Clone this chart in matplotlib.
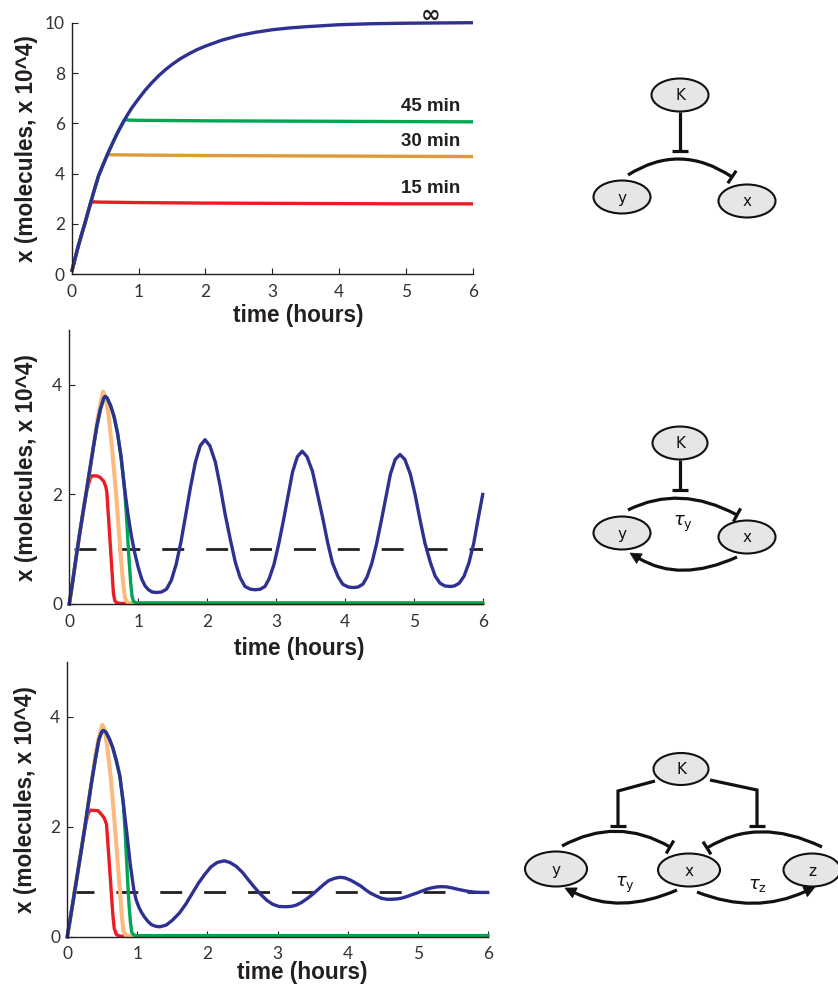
import matplotlib
matplotlib.use("Agg")
import matplotlib.pyplot as plt
import numpy as np
from matplotlib import font_manager as fm
from matplotlib.patches import Ellipse, PathPatch, Polygon
from matplotlib.path import Path

# ---------------- data ----------------
# Top panel: delay-free repression, different durations
top_t_blue = [0, 0.05, 0.1, 0.15, 0.2, 0.25, 0.3, 0.35, 0.4, 0.45, 0.5, 0.55, 0.6, 0.675, 0.75, 0.825, 0.9,
              1.0, 1.1, 1.2, 1.3, 1.4, 1.5, 1.625, 1.75, 1.875, 2.0, 2.25, 2.5, 2.75, 3.0, 3.25, 3.5, 3.75,
              4.0, 4.5, 5.0, 5.5, 6.0]
top_blue = [0.1, 0.62, 1.14, 1.6, 2.05, 2.53, 3.0, 3.46, 3.9, 4.23, 4.55, 4.86, 5.15, 5.57, 5.95, 6.3, 6.62,
            6.98, 7.32, 7.62, 7.89, 8.13, 8.34, 8.57, 8.76, 8.93, 9.07, 9.31, 9.49, 9.62, 9.72, 9.79, 9.84, 9.88,
            9.92, 9.96, 9.98, 9.99, 10.0]
top_t_red = [0, 0.05, 0.1, 0.15, 0.2, 0.25, 0.28, 0.32, 0.4, 1, 2, 3, 4, 5, 6]
top_red = [0.1, 0.62, 1.14, 1.6, 2.05, 2.53, 2.8, 2.88, 2.87, 2.85, 2.83, 2.82, 2.81, 2.80, 2.80]
top_t_orange = [0, 0.05, 0.1, 0.15, 0.2, 0.25, 0.3, 0.35, 0.4, 0.45, 0.5, 0.54, 0.6, 1, 2, 3, 4, 5, 6]
top_orange = [0.1, 0.62, 1.14, 1.6, 2.05, 2.53, 3.0, 3.46, 3.9, 4.23, 4.55, 4.76, 4.75, 4.74, 4.72, 4.71, 4.70,
              4.69, 4.68]
top_t_green = [0, 0.05, 0.1, 0.15, 0.2, 0.25, 0.3, 0.35, 0.4, 0.45, 0.5, 0.55, 0.6, 0.675, 0.75, 0.79, 0.85, 1,
               2, 3, 4, 5, 6]
top_green = [0.1, 0.62, 1.14, 1.6, 2.05, 2.53, 3.0, 3.46, 3.9, 4.23, 4.55, 4.86, 5.15, 5.57, 5.95, 6.15, 6.13,
             6.12, 6.1, 6.09, 6.08, 6.07, 6.06]
top_labels = ["\u221e", "45 min", "30 min", "15 min"]
top_label_y = [10.32, 6.67, 5.26, 3.41]

# Middle panel: one delayed loop
mid_t_blue = [0, 0.05, 0.1, 0.15, 0.2, 0.25, 0.3, 0.35, 0.4, 0.45, 0.5, 0.52, 0.55, 0.6, 0.65, 0.7, 0.75, 0.8,
              0.85, 0.9, 0.95, 1.0, 1.05, 1.1, 1.15, 1.2, 1.27,
              1.34, 1.41, 1.48, 1.55, 1.62, 1.69, 1.76, 1.83, 1.90, 1.97,
              2.04, 2.12, 2.19, 2.26, 2.34, 2.41, 2.48, 2.55, 2.63, 2.70,
              2.77, 2.84, 2.90, 2.97, 3.04, 3.11, 3.18, 3.24, 3.31, 3.38,
              3.45, 3.53, 3.60, 3.68, 3.75, 3.82, 3.90, 3.97, 4.05, 4.12,
              4.19, 4.26, 4.32, 4.39, 4.46, 4.53, 4.60, 4.66, 4.73, 4.80,
              4.87, 4.95, 5.02, 5.09, 5.16, 5.24, 5.31, 5.38, 5.45, 5.53,
              5.59, 5.66, 5.73, 5.80, 5.87, 5.93, 6.0]
mid_blue = [0, 0.42, 0.86, 1.28, 1.68, 2.07, 2.47, 2.87, 3.25, 3.55, 3.76, 3.79, 3.76, 3.62, 3.42, 3.12, 2.7, 2.13,
            1.65, 1.25, 0.93, 0.67, 0.46, 0.33, 0.26, 0.22, 0.21,
            0.22, 0.27, 0.43, 0.72, 1.13, 1.63, 2.14, 2.59, 2.89, 3.0,
            2.89, 2.59, 2.15, 1.65, 1.16, 0.76, 0.48, 0.32, 0.27, 0.26,
            0.27, 0.32, 0.46, 0.72, 1.10, 1.54, 2.01, 2.41, 2.69, 2.79,
            2.69, 2.42, 2.02, 1.56, 1.12, 0.75, 0.50, 0.36, 0.31, 0.30,
            0.31, 0.36, 0.49, 0.74, 1.10, 1.53, 1.98, 2.37, 2.64, 2.73,
            2.64, 2.37, 1.99, 1.54, 1.12, 0.76, 0.51, 0.38, 0.33, 0.32,
            0.33, 0.38, 0.51, 0.75, 1.11, 1.53, 2.0]
mid_t_red = [0, 0.05, 0.1, 0.15, 0.2, 0.25, 0.3, 0.33, 0.4, 0.45, 0.5, 0.53, 0.545, 0.56, 0.58, 0.6, 0.62, 0.64,
             0.66, 0.69, 0.75, 1, 6]
mid_red = [0, 0.42, 0.86, 1.28, 1.68, 2.05, 2.28, 2.34, 2.34, 2.31, 2.24, 2.14, 2.04, 1.75, 1.37, 0.98, 0.59, 0.2,
           0.06, 0.02, 0.01, 0.01, 0.01]
mid_t_orange = [0, 0.05, 0.1, 0.15, 0.2, 0.25, 0.3, 0.35, 0.4, 0.45, 0.49, 0.52, 0.57, 0.62, 0.68, 0.74, 0.78,
                0.81, 0.85, 1, 6]
mid_orange = [0, 0.42, 0.86, 1.28, 1.68, 2.07, 2.47, 2.87, 3.3, 3.65, 3.88, 3.8, 3.45, 2.85, 2.0, 0.98, 0.4,
              0.1, 0.02, 0.01, 0.01]
mid_t_green = [0, 0.05, 0.1, 0.15, 0.2, 0.25, 0.3, 0.35, 0.4, 0.45, 0.5, 0.52, 0.55, 0.6, 0.65, 0.7, 0.75, 0.8,
               0.83, 0.86, 0.89, 0.91, 0.93, 0.97, 6]
mid_green = [0, 0.42, 0.86, 1.28, 1.68, 2.07, 2.47, 2.87, 3.25, 3.55, 3.76, 3.79, 3.76, 3.62, 3.42, 3.12, 2.7, 2.13,
             1.6, 0.95, 0.4, 0.15, 0.05, 0.02, 0.02]
mid_threshold = 1.0

# Bottom panel: two delayed loops
bot_t_blue = [0, 0.05, 0.1, 0.15, 0.2, 0.25, 0.3, 0.35, 0.4, 0.45, 0.49, 0.514,
              0.55, 0.6, 0.65, 0.7, 0.75, 0.8, 0.85, 0.9, 0.95, 0.98, 1.02, 1.06, 1.1, 1.15, 1.2, 1.26, 1.32,
              1.41, 1.50, 1.60, 1.69, 1.78, 1.87, 1.96, 2.05, 2.14, 2.24,
              2.32, 2.41, 2.50, 2.58, 2.67, 2.76, 2.85, 2.93, 3.02, 3.11,
              3.19, 3.26, 3.34, 3.42, 3.50, 3.58, 3.66, 3.73, 3.81, 3.89,
              3.96, 4.04, 4.11, 4.19, 4.26, 4.33, 4.41, 4.48, 4.56, 4.63,
              4.70, 4.77, 4.84, 4.91, 4.99, 5.06, 5.13, 5.20, 5.27, 5.34,
              5.42, 5.50, 5.58, 5.66, 5.74, 5.82, 5.90, 6.0]
bot_blue = [0, 0.39, 0.78, 1.18, 1.58, 1.98, 2.42, 2.84, 3.22, 3.58, 3.72, 3.75,
            3.72, 3.6, 3.43, 3.2, 2.92, 2.42, 1.88, 1.3, 0.85, 0.68, 0.54, 0.44, 0.36, 0.28, 0.22, 0.19, 0.18,
            0.21, 0.30, 0.43, 0.59, 0.78, 0.97, 1.13, 1.27, 1.35, 1.38,
            1.35, 1.28, 1.17, 1.04, 0.90, 0.77, 0.66, 0.59, 0.55, 0.545,
            0.55, 0.57, 0.62, 0.69, 0.77, 0.86, 0.95, 1.02, 1.06, 1.08,
            1.07, 1.03, 0.98, 0.92, 0.85, 0.79, 0.74, 0.70, 0.68, 0.68,
            0.686, 0.70, 0.727, 0.76, 0.795, 0.83, 0.863, 0.888, 0.904, 0.91,
            0.905, 0.885, 0.86, 0.84, 0.82, 0.81, 0.805, 0.805]
bot_t_red = [0, 0.05, 0.1, 0.15, 0.2, 0.25, 0.3, 0.33, 0.44, 0.49, 0.53, 0.56, 0.59, 0.62, 0.65, 0.67, 0.7, 0.75, 1, 6]
bot_red = [0, 0.39, 0.78, 1.18, 1.58, 1.98, 2.25, 2.30, 2.29, 2.22, 2.15, 2.04, 1.5, 0.95, 0.4, 0.15, 0.04, 0.01, 0.01, 0.01]
bot_t_orange = [0, 0.05, 0.1, 0.15, 0.2, 0.25, 0.3, 0.35, 0.4, 0.45, 0.5, 0.53, 0.57, 0.62, 0.68, 0.72, 0.75,
                0.78, 0.8, 0.83, 0.9, 6]
bot_orange = [0, 0.39, 0.78, 1.18, 1.58, 1.98, 2.42, 2.84, 3.3, 3.62, 3.85, 3.78, 3.45, 2.9, 2.0, 1.35, 0.85,
              0.35, 0.12, 0.03, 0.01, 0.01]
bot_t_green = [0, 0.05, 0.1, 0.15, 0.2, 0.25, 0.3, 0.35, 0.4, 0.45, 0.49, 0.514, 0.55, 0.6, 0.65, 0.7, 0.75, 0.8,
               0.83, 0.86, 0.88, 0.9, 0.92, 0.95, 1.0, 6]
bot_green = [0, 0.39, 0.78, 1.18, 1.58, 1.98, 2.42, 2.84, 3.22, 3.58, 3.72, 3.75, 3.72, 3.6, 3.43, 3.2, 2.92, 2.42,
             1.8, 1.05, 0.6, 0.28, 0.08, 0.03, 0.02, 0.02]
bot_threshold = 0.81

x_ticks = [0, 1, 2, 3, 4, 5, 6]
top_yticks = [0, 2, 4, 6, 8, 10]
low_yticks = [0, 2, 4]

# ---------------- style ----------------
BLUE = '#2E3192'
GREEN = '#00A651'
RED = '#ED1C24'
ORANGE_DARK = '#E09A3C'
ORANGE_LIGHT = '#FDB97E'
INK = '#231F20'

names = {f.name for f in fm.fontManager.ttflist}
tick_font = 'Liberation Sans Narrow' if 'Liberation Sans Narrow' in names else 'Lato'
label_font = 'Liberation Sans'
plt.rcParams['font.family'] = [tick_font, 'DejaVu Sans']

fig = plt.figure(figsize=(8.38, 9.85), dpi=100)


def px_axes(l, r, t, b):
    W, H = 838.0, 985.0
    return fig.add_axes([l / W, 1 - b / H, (r - l) / W, (b - t) / H])


ax1 = px_axes(71.7, 473.0, 22.7, 274.3)
ax2 = px_axes(69.3, 482.7, 330.2, 604.0)
ax3 = px_axes(67.3, 487.7, 661.7, 936.7)


def style(ax, ymax, yticks, xlab_x, xlab_y, ylab_x):
    ax.set_xlim(0, 6)
    ax.set_ylim(0, ymax)
    ax.set_xticks(x_ticks)
    ax.set_yticks(yticks)
    for s in ['top', 'right']:
        ax.spines[s].set_visible(False)
    for s in ['left', 'bottom']:
        ax.spines[s].set_linewidth(1.0)
        ax.spines[s].set_color(INK)
    ax.tick_params(direction='in', length=4, width=0.8, color=INK, labelcolor='#333333',
                   labelsize=12.5, top=False, right=False)
    ax.tick_params(axis='x', pad=7)
    ax.tick_params(axis='y', pad=5)
    ax.patch.set_alpha(0)
    ax.text(xlab_x, xlab_y, 'time (hours)', transform=ax.transAxes, ha='center', va='top',
            fontsize=16.3, fontweight='bold', family=label_font, color=INK)
    ax.text(ylab_x, 0.5, 'x (molecules, x 10^4)', transform=ax.transAxes, ha='center', va='center',
            rotation=90, fontsize=16.3, fontweight='bold', family=label_font, color=INK)


lw = 2.4
# top panel
ax1.plot(top_t_red, top_red, color=RED, lw=lw, clip_on=False, solid_capstyle='butt')
ax1.plot(top_t_orange, top_orange, color=ORANGE_DARK, lw=lw, clip_on=False, solid_capstyle='butt')
ax1.plot(top_t_green, top_green, color=GREEN, lw=lw, clip_on=False, solid_capstyle='butt')
ax1.plot(top_t_blue, top_blue, color=BLUE, lw=lw, clip_on=False, solid_capstyle='butt')
for lab, yv in zip(top_labels, top_label_y):
    if lab == "\u221e":
        ax1.text(5.366, yv, lab, ha='center', va='center', fontsize=17, fontweight='bold',
                 family='DejaVu Sans', color=INK)
    else:
        ax1.text(5.366, yv, lab, ha='center', va='center', fontsize=13.5, fontweight='bold',
                 family=label_font, color=INK)
style(ax1, 10, top_yticks, 0.564, -0.118, -0.112)

# middle panel
ax2.plot([0.07, 6], [mid_threshold, mid_threshold], color=INK, lw=2, dashes=[7.9, 7.9])
ax2.plot(mid_t_red, mid_red, color=RED, lw=lw, clip_on=False)
ax2.plot(mid_t_orange, mid_orange, color=ORANGE_LIGHT, lw=2.9, clip_on=False)
ax2.plot(mid_t_green, mid_green, color=GREEN, lw=lw, clip_on=False)
ax2.plot(mid_t_blue, mid_blue, color=BLUE, lw=lw, clip_on=False)
style(ax2, 5, low_yticks, 0.557, -0.12, -0.103)

# bottom panel
ax3.plot([0.065, 6], [bot_threshold, bot_threshold], color=INK, lw=2, dashes=[7.9, 7.9])
ax3.plot(bot_t_red, bot_red, color=RED, lw=lw, clip_on=False)
ax3.plot(bot_t_orange, bot_orange, color=ORANGE_LIGHT, lw=2.9, clip_on=False)
ax3.plot(bot_t_green, bot_green, color=GREEN, lw=lw, clip_on=False)
ax3.plot(bot_t_blue, bot_blue, color=BLUE, lw=lw, clip_on=False)
style(ax3, 5, low_yticks, 0.56, -0.088, -0.1006)

# ---------------- network diagrams ----------------
axd = fig.add_axes([0, 0, 1, 1], zorder=5)
axd.set_xlim(0, 838)
axd.set_ylim(985, 0)
axd.axis('off')

DLW = 2.3


def node(cx, cy, w, h, label):
    axd.add_patch(Ellipse((cx, cy), w, h, facecolor='#E6E6E6', edgecolor='#111111', lw=1.5))
    axd.text(cx, cy + 1, label, ha='center', va='center', fontsize=11, family='DejaVu Sans', color='#111111')


def curve(p0, c, p2, end='bar'):
    p0, c, p2 = np.array(p0, float), np.array(c, float), np.array(p2, float)
    d = p2 - c
    d = d / np.hypot(*d)
    n = np.array([-d[1], d[0]])
    if end == 'arrow':
        hl, hw = 11.0, 5.5
        base = p2 - d * hl
        pend = base + d * 1.0
        axd.add_patch(PathPatch(Path([p0, c, pend], [Path.MOVETO, Path.CURVE3, Path.CURVE3]),
                                fc='none', ec='#111111', lw=DLW, capstyle='butt'))
        axd.add_patch(Polygon([p2, base + n * hw, base - n * hw], closed=True, fc='#111111', ec='#111111', lw=0.5))
    else:
        axd.add_patch(PathPatch(Path([p0, c, p2], [Path.MOVETO, Path.CURVE3, Path.CURVE3]),
                                fc='none', ec='#111111', lw=DLW, capstyle='butt'))
        a, b = p2 + n * 7.5, p2 - n * 7.5
        axd.plot([a[0], b[0]], [a[1], b[1]], color='#111111', lw=DLW, solid_capstyle='butt')


def tline(points, bar_half=8):
    xs = [p[0] for p in points]
    ys = [p[1] for p in points]
    axd.plot(xs, ys, color='#111111', lw=DLW, solid_capstyle='butt', solid_joinstyle='miter')
    ex, ey = points[-1]
    axd.plot([ex - bar_half, ex + bar_half], [ey, ey], color='#111111', lw=DLW, solid_capstyle='butt')


def tau(x, y, sub):
    axd.text(x, y, r'$\tau_{\mathrm{' + sub + '}}$', ha='center', va='center', fontsize=13, color='#111111')


# diagram 1
tline([(680, 112), (680, 151)])
curve((628, 175), (680, 142), (732, 177), 'bar')
node(680, 95, 57, 33, 'K')
node(622, 197, 57, 33, 'y')
node(747, 201, 57, 33, 'x')

# diagram 2
tline([(680, 460), (680, 490)])
curve((628, 510), (680, 484), (737, 515), 'bar')
curve((737, 557), (680, 583), (630, 553), 'arrow')
tau(683, 524, 'y')
node(680, 443, 55, 33, 'K')
node(622, 533, 57, 33, 'y')
node(747, 537, 57, 33, 'x')

# diagram 3
tline([(655, 781), (618, 791), (618, 826)])
tline([(710, 780), (757, 790), (757, 826)])
curve((562, 846), (617, 816), (670, 847), 'bar')
curve((822, 847), (758, 816), (707, 848), 'bar')
curve((677, 890), (620, 915), (565, 888), 'arrow')
curve((697, 892), (755, 915), (815, 887), 'arrow')
tau(625, 885, 'y')
tau(757, 886, 'z')
node(681, 769, 55, 32, 'K')
node(556, 869, 62, 35, 'y')
node(689, 870, 62, 33, 'x')
node(812, 870, 57, 33, 'z')

fig.savefig('out.png', dpi=100)
